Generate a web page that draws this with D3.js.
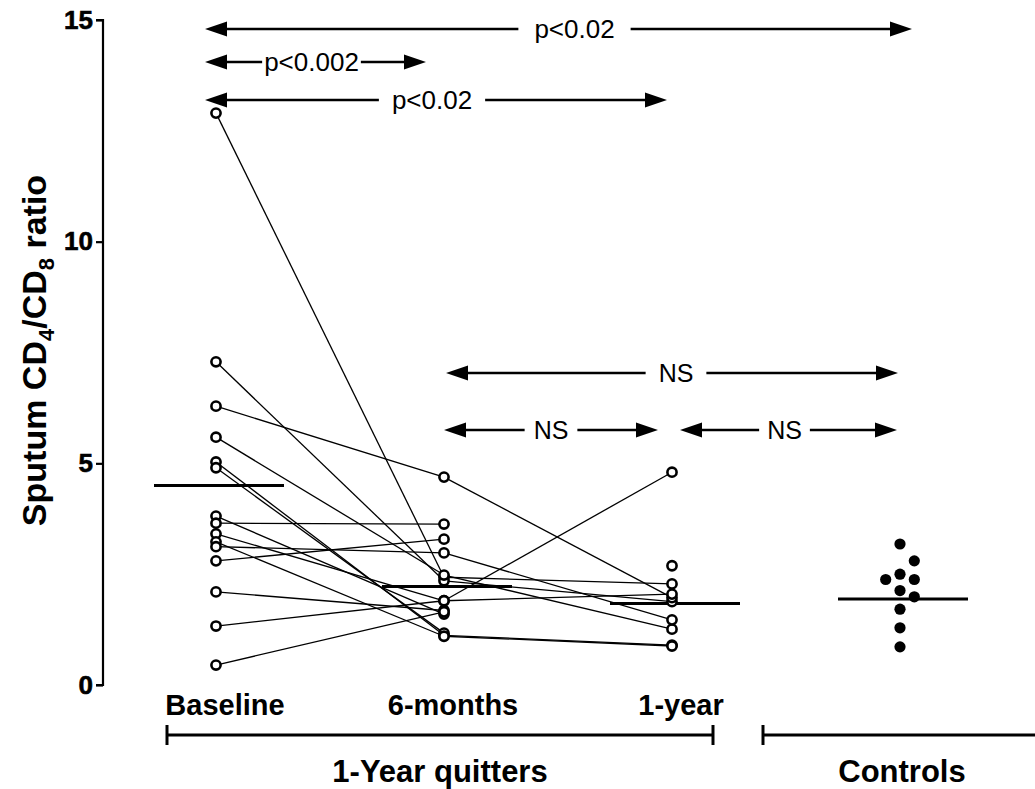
<!DOCTYPE html>
<html>
<head>
<meta charset="utf-8">
<script src="https://cdn.jsdelivr.net/npm/d3@7/dist/d3.min.js"></script>
<style>
  html, body { margin: 0; padding: 0; background: #fff; }
  svg { display: block; }
  .bold { font-family: "Liberation Sans", Arial, sans-serif; font-weight: bold; }
  .plain { font-family: "Liberation Sans", Arial, sans-serif; }
</style>
</head>
<body>
<svg id="chart" width="1035" height="789"></svg>
<script>
// Sputum CD4/CD8 ratio in 1-year quitters (paired) and in controls
const columns = ["Baseline", "6-months", "1-year", "Controls"];

// One entry per quitter; null = no measurement at that visit
const baseline  = [12.9, 7.29, 6.29, 5.59, 5.03, 4.90, 3.81, 3.65, 3.41, 3.23, 3.12, 2.80, 2.10, 1.33, 0.45, null];
const sixMonths = [2.43, 2.35, 4.69, 2.48, 1.12, 1.17, 1.60, 3.63, 1.90, 1.10, 2.98, 3.29, 1.68, 1.90, 1.65, null];
const oneYear   = [2.28, 1.88, 1.97, 1.26, 0.90, null, null, null, 2.05, 0.88, 1.47, null, null, 4.80, null, 2.69];

const controls = [3.18, 2.80, 2.50, 2.38, 2.38, 2.13, 1.99, 1.71, 1.29, 0.86];

// Group summary lines (one per column)
const groupMeans = [4.5, 2.22, 1.84, 1.94];

const yTicks = [0, 5, 10, 15];

// Pairwise comparisons drawn as double-headed arrows
const comparisons = [
  { from: "Baseline", to: "Controls", label: "p<0.02" },
  { from: "Baseline", to: "6-months", label: "p<0.002" },
  { from: "Baseline", to: "1-year",   label: "p<0.02" },
  { from: "6-months", to: "Controls", label: "NS" },
  { from: "6-months", to: "1-year",   label: "NS" },
  { from: "1-year",   to: "Controls", label: "NS" }
];

const groups = [
  { label: "1-Year quitters", first: "Baseline", last: "1-year" },
  { label: "Controls", first: "Controls", last: null }
];

// ---------------------------------------------------------------
const W = 1035, H = 789;
const svg = d3.select("#chart");

const x = d3.scalePoint().domain(columns).range([216, 900]);
const y = d3.scaleLinear().domain([0, 15]).range([685, 20]);

// Y axis
const axisX = 103;
const yAxis = svg.append("g")
  .attr("transform", `translate(${axisX},0)`)
  .call(d3.axisLeft(y).tickValues(yTicks).tickSize(7).tickPadding(3).tickFormat(d3.format("d")));
yAxis.select(".domain").attr("stroke", "#000").attr("stroke-width", 2.2).attr("d", `M-7,${y(0)}H0V${y(15)}H-7`);
yAxis.selectAll(".tick line").attr("stroke", "#000").attr("stroke-width", 2.2);
yAxis.selectAll(".tick text")
  .attr("class", "bold")
  .attr("font-size", 26)
  .attr("stroke", "#000")
  .attr("stroke-width", 0.6)
  .attr("fill", "#000");

// Y axis title with subscripts
const yTitle = svg.append("text")
  .attr("class", "bold")
  .attr("font-size", 34)
  .attr("text-anchor", "middle")
  .attr("transform", `translate(46,${(y(0) + y(15)) / 2 - 2}) rotate(-90)`);
yTitle.append("tspan").text("Sputum CD");
yTitle.append("tspan").attr("font-size", 22).attr("dy", 8).text("4");
yTitle.append("tspan").attr("dy", -8).text("/CD");
yTitle.append("tspan").attr("font-size", 22).attr("dy", 8).text("8");
yTitle.append("tspan").attr("dy", -8).text(" ratio");

// Individual quitter trajectories
const visits = [baseline, sixMonths, oneYear];
const subjects = baseline.map((_, i) => visits.map((arr, k) => ({ col: columns[k], v: arr[i] })));

const lines = svg.append("g").attr("stroke", "#000").attr("stroke-width", 1.3).attr("fill", "none");
subjects.forEach(s => {
  for (let k = 0; k < s.length - 1; k++) {
    const a = s[k], b = s[k + 1];
    if (a.v == null || b.v == null) continue;
    lines.append("line")
      .attr("x1", x(a.col)).attr("y1", y(a.v))
      .attr("x2", x(b.col)).attr("y2", y(b.v));
  }
});

// Summary lines
svg.append("g").selectAll("line")
  .data(columns.map((c, i) => ({ col: c, v: groupMeans[i] })))
  .join("line")
  .attr("x1", d => x(d.col) - 62)
  .attr("x2", d => x(d.col) + 68)
  .attr("y1", d => y(d.v)).attr("y2", d => y(d.v))
  .attr("stroke", "#000").attr("stroke-width", 3);

// Open circles for quitter visits
const pts = [];
subjects.forEach(s => s.forEach(p => { if (p.v != null) pts.push(p); }));
svg.append("g").selectAll("circle")
  .data(pts)
  .join("circle")
  .attr("cx", d => x(d.col))
  .attr("cy", d => y(d.v))
  .attr("r", 4.6)
  .attr("fill", "#fff")
  .attr("stroke", "#000")
  .attr("stroke-width", 2.6);

// Controls: filled dots, dodged sideways where they would overlap
const step = 14.3, minGap = 16;
const placed = [];
controls.slice().sort((a, b) => a - b).forEach(v => {
  const cy = y(v);
  const order = [0, 1, -1, 2, -2, 3, -3];
  for (const c of order) {
    const clash = placed.some(p => p.c === c && Math.abs(p.cy - cy) < minGap);
    if (!clash) { placed.push({ v, c, cy }); break; }
  }
});
svg.append("g").selectAll("circle")
  .data(placed)
  .join("circle")
  .attr("cx", d => x("Controls") + d.c * step)
  .attr("cy", d => d.cy)
  .attr("r", 5.6)
  .attr("fill", "#000");

// Comparison arrows
const arrowRows = [
  { y: 29,  x1: -11, x2: 12,  shift: 16, pad: 16 },
  { y: 62,  x1: -11, x2: -18, shift: -4, pad: 2 },
  { y: 100, x1: -11, x2: -5,  shift: -4, pad: 13 },
  { y: 373, x1: 2,   x2: -2,  shift: 4,  pad: 13 },
  { y: 430, x1: 0,   x2: -14, shift: 0,  pad: 9 },
  { y: 430, x1: 8,   x2: -3,  shift: -4, pad: 8 }
];
const head = 22, halfH = 7.5;
const ann = svg.append("g");
comparisons.forEach((c, i) => {
  const r = arrowRows[i];
  const xa = x(c.from) + r.x1, xb = x(c.to) + r.x2;
  const mid = (xa + xb) / 2 + r.shift;
  const isNS = c.label === "NS";
  const t = ann.append("text")
    .attr("class", "plain")
    .attr("font-size", isNS ? 25 : 26)
    .attr("text-anchor", "middle")
    .attr("x", mid).attr("y", r.y + 9)
    .attr("fill", "#000")
    .text(c.label);
  const tw = t.node().getComputedTextLength();
  const gl = mid - tw / 2 - r.pad, gr = mid + tw / 2 + r.pad;
  ann.append("line").attr("x1", xa + head - 2).attr("x2", gl).attr("y1", r.y).attr("y2", r.y)
    .attr("stroke", "#000").attr("stroke-width", 2.6);
  ann.append("line").attr("x1", gr).attr("x2", xb - head + 2).attr("y1", r.y).attr("y2", r.y)
    .attr("stroke", "#000").attr("stroke-width", 2.6);
  ann.append("path").attr("d", `M${xa},${r.y}L${xa + head},${r.y - halfH}L${xa + head},${r.y + halfH}Z`).attr("fill", "#000");
  ann.append("path").attr("d", `M${xb},${r.y}L${xb - head},${r.y - halfH}L${xb - head},${r.y + halfH}Z`).attr("fill", "#000");
});

// Column labels under the axis
svg.append("g").selectAll("text")
  .data(columns.slice(0, 3))
  .join("text")
  .attr("class", "bold")
  .attr("font-size", 29)
  .attr("text-anchor", "middle")
  .attr("x", d => x(d) + 9)
  .attr("y", 715)
  .attr("fill", "#000")
  .text(d => d);

// Group brackets and labels
const brY = 735;
const g0 = groups[0], g1 = groups[1];
const br = [
  { x1: x(g0.first) - 49, x2: x(g0.last) + 41, label: g0.label, ends: [true, true] },
  { x1: x(g1.first) - 137, x2: W + 5, label: g1.label, ends: [true, false] }
];
const bg = svg.append("g");
br.forEach(b => {
  bg.append("line").attr("x1", b.x1).attr("x2", b.x2).attr("y1", brY).attr("y2", brY)
    .attr("stroke", "#000").attr("stroke-width", 3);
  if (b.ends[0]) bg.append("line").attr("x1", b.x1).attr("x2", b.x1).attr("y1", brY - 10).attr("y2", brY + 10)
    .attr("stroke", "#000").attr("stroke-width", 3);
  if (b.ends[1]) bg.append("line").attr("x1", b.x2).attr("x2", b.x2).attr("y1", brY - 10).attr("y2", brY + 10)
    .attr("stroke", "#000").attr("stroke-width", 3);
});
bg.append("text").attr("class", "bold").attr("font-size", 31).attr("text-anchor", "middle")
  .attr("x", (br[0].x1 + br[0].x2) / 2).attr("y", 782).text(g0.label);
bg.append("text").attr("class", "bold").attr("font-size", 31).attr("text-anchor", "middle")
  .attr("x", x("Controls") + 2).attr("y", 782).text(g1.label);
</script>
</body>
</html>
